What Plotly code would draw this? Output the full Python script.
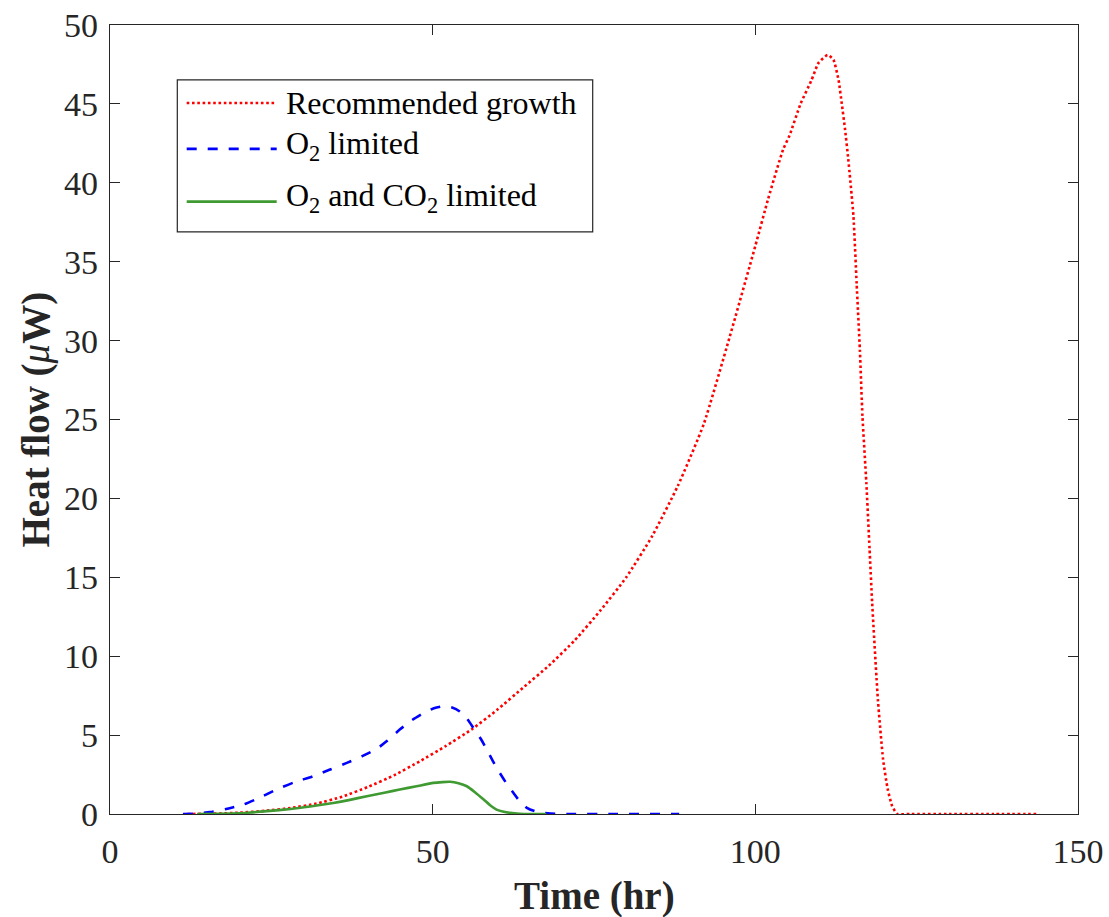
import plotly.graph_objects as go

# Heat flow traces (time in hr, heat flow in microwatts)
recommended_t = [12, 16, 20, 24, 28, 32, 36, 40, 44, 48, 52, 56, 60, 64, 68, 72,
                 76, 80, 84, 88, 92, 96, 100, 102, 104.3, 105.3, 107.0, 108.7,
                 109.8, 111.2, 112.1, 112.9, 113.4, 113.9, 114.4, 115.2, 115.7,
                 116.2, 116.6, 117.2, 117.7, 118.1, 119.0, 119.8, 120.5, 121.2,
                 122.0, 124.0, 130.0, 137.0, 144.0]
recommended_q = [0.0, 0.02, 0.08, 0.2, 0.38, 0.66, 1.1, 1.72, 2.45, 3.34, 4.3, 5.35,
                 6.6, 8.0, 9.4, 11.0, 12.9, 15.0, 17.6, 20.8, 24.7, 30.2, 36.0,
                 39.0, 42.1, 43.0, 45.0, 46.5, 47.6, 48.1, 47.8, 46.5, 45.0, 43.4,
                 41.5, 37.9, 33.6, 29.4, 25.2, 21.0, 16.8, 13.4, 7.2, 3.45, 1.6,
                 0.5, 0.0, 0.0, 0.0, 0.0, 0.0]

o2_t = [11.3, 13.5, 15.5, 18, 20.7, 23, 25.8, 28.5, 31.5, 34, 36.7, 39, 41.3, 43,
        44.9, 46.8, 48.6, 50.2, 51.6, 53, 54.2, 55.3, 56.3, 57.4, 58.4, 59.4, 60.4,
        61.5, 62.5, 63.5, 64.6, 65.8, 67.1, 69, 71, 78, 88.2]
o2_q = [0.0, 0.03, 0.12, 0.32, 0.6, 1.0, 1.55, 2.0, 2.4, 2.8, 3.24, 3.65, 4.12, 4.65,
        5.35, 5.95, 6.4, 6.7, 6.83, 6.75, 6.5, 6.05, 5.46, 4.8, 4.08, 3.3, 2.6,
        1.9, 1.34, 0.8, 0.39, 0.18, 0.08, 0.02, 0.0, 0.0, 0.0]

o2co2_t = [13.5, 17, 20, 24.3, 28, 31, 34.6, 37, 39.8, 42.5, 44.9, 47.5, 50.1, 51.5,
           52.7, 54, 55.3, 56.5, 57.9, 59, 59.9, 61, 62, 63.5, 65, 66.3, 67.6]
o2co2_q = [0.0, 0.01, 0.04, 0.18, 0.32, 0.48, 0.7, 0.88, 1.13, 1.35, 1.55, 1.76, 1.97,
           2.02, 2.04, 1.95, 1.76, 1.4, 0.92, 0.52, 0.28, 0.14, 0.07, 0.02, 0.0, 0.0,
           0.0]

x_ticks = [0, 50, 100, 150]
y_ticks = [0, 5, 10, 15, 20, 25, 30, 35, 40, 45, 50]

series_names = ["Recommended growth", "O<sub>2</sub> limited",
                "O<sub>2</sub> and CO<sub>2</sub> limited"]
series_colors = ["#FF0000", "#0000FF", "#3F9A32"]
series_dash = ["2.6px,2.7px", "10px,11px", "solid"]
series_width = [2.6, 2.6, 2.6]

FONT = "Liberation Serif"
AXIS_COLOR = "#262626"

W, H = 1109, 917
L, R, T, B = 110, 1078, 25, 814.5


def px(xp):
    return (xp - L) / (R - L)


def py(yp):
    return (B - yp) / (B - T)


fig = go.Figure()
for t, q, name, c, d, w in zip([recommended_t, o2_t, o2co2_t],
                               [recommended_q, o2_q, o2co2_q],
                               series_names, series_colors, series_dash, series_width):
    fig.add_trace(go.Scatter(
        x=t, y=q, mode="lines", name=name, showlegend=False,
        line=dict(color=c, dash=d, width=w, shape="spline", smoothing=0.5),
    ))

axis_common = dict(
    showline=True, linecolor=AXIS_COLOR, linewidth=1.2, mirror="allticks",
    ticks="inside", ticklen=10, tickwidth=1.2, tickcolor=AXIS_COLOR,
    showgrid=False, zeroline=False, layer="below traces",
    tickfont=dict(family=FONT, size=34, color=AXIS_COLOR),
)

fig.update_xaxes(range=[0, 150], tickvals=x_ticks, ticklabelstandoff=7, **axis_common)
fig.update_yaxes(range=[0, 50], tickvals=y_ticks, ticklabelstandoff=4, **axis_common)

# Legend box drawn in paper coordinates
shapes = [dict(type="rect", xref="paper", yref="paper",
               x0=px(177.3), x1=px(592.7), y0=py(232), y1=py(80),
               line=dict(color=AXIS_COLOR, width=1.2), fillcolor="white", layer="above")]
row_y = [103, 149, 201.7]
text_y = [103, 146, 198]
annotations = []
for yy, ty, name, c, d, w in zip(row_y, text_y, series_names, series_colors,
                                  series_dash, series_width):
    shapes.append(dict(type="line", xref="paper", yref="paper",
                       x0=px(186.7), x1=px(276.7), y0=py(yy), y1=py(yy),
                       line=dict(color=c, dash=d, width=w), layer="above"))
    annotations.append(dict(xref="paper", yref="paper", x=px(284), y=py(ty),
                            xanchor="left", yanchor="middle", showarrow=False,
                            text=name, font=dict(family=FONT, size=32, color="black")))

# Axis titles
annotations.append(dict(xref="paper", yref="paper", x=0.5, y=py(897),
                        xanchor="center", yanchor="middle", showarrow=False,
                        text="<b>Time (hr)</b>",
                        font=dict(family=FONT, size=39, color=AXIS_COLOR)))
annotations.append(dict(xref="paper", yref="paper", x=px(35), y=0.5,
                        xanchor="center", yanchor="middle", showarrow=False,
                        textangle=-90,
                        text="<b>Heat flow (</b><i>μ</i><b>W)</b>",
                        font=dict(family=FONT, size=39, color=AXIS_COLOR)))

fig.update_layout(
    width=W, height=H,
    margin=dict(l=L, r=W - R, t=T, b=H - B, autoexpand=False),
    paper_bgcolor="white", plot_bgcolor="white",
    shapes=shapes, annotations=annotations,
    showlegend=False,
)

fig.write_html("out.html")
